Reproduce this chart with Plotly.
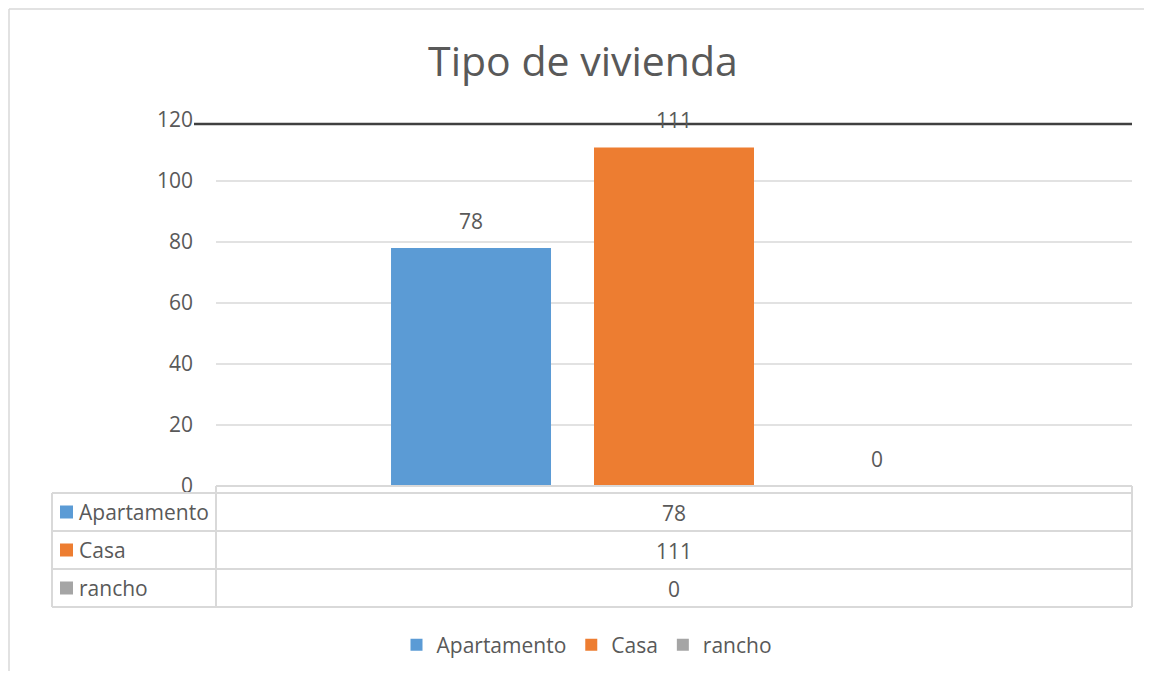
import plotly.graph_objects as go

# ---- data ----
title_text = "Tipo de vivienda"
categories = ["Tipo de vivienda"]
series_names = ["Apartamento", "Casa", "rancho"]
series_values = [78, 111, 0]
series_colors = ["#5B9BD5", "#ED7D31", "#A5A5A5"]
y_ticks = [0, 20, 40, 60, 80, 100, 120]

OFF = 8                      # page body margin
W, H = 1152 - 2 * OFF, 679 - 2 * OFF   # keep the page free of scrollbars
PL, PR, PT, PB = 216, 1132, 120, 486   # plot area in screen pixels
TXT = "#595959"
GRID = "#D9D9D9"
FONT = "Open Sans"
FS = 21


def px2x(px):
    return (px - PL) / (PR - PL)


def py2y(py):
    return (PB - py) / (PB - PT)


fig = go.Figure()
for name, val, col in zip(series_names, series_values, series_colors):
    fig.add_trace(go.Bar(
        x=categories, y=[val], name=name,
        marker=dict(color=col, line=dict(width=0)),
        hoverinfo="skip",
    ))

shapes = []
annotations = []

# gridlines (except top)
for t in y_ticks[1:-1]:
    shapes.append(dict(type="line", xref="paper", yref="y", x0=0, x1=1, y0=t, y1=t,
                       line=dict(color=GRID, width=1.5), layer="below"))

# dark line near top
shapes.append(dict(type="line", xref="paper", yref="paper",
                   x0=px2x(194), x1=1, y0=py2y(124), y1=py2y(124),
                   line=dict(color="#404040", width=2.3)))

# outer chart border (only left and top edges are visible)
shapes.append(dict(type="line", xref="paper", yref="paper",
                   x0=px2x(9), x1=px2x(9), y0=py2y(9), y1=py2y(700),
                   line=dict(color=GRID, width=1.5), layer="below"))
shapes.append(dict(type="line", xref="paper", yref="paper",
                   x0=px2x(9), x1=px2x(1170), y0=py2y(9), y1=py2y(9),
                   line=dict(color=GRID, width=1.5), layer="below"))

# data table lines
tl = dict(color=GRID, width=2)
shapes.append(dict(type="line", xref="paper", yref="paper", x0=px2x(216), x1=px2x(1132),
                   y0=py2y(486), y1=py2y(486), line=tl))
row_edges = [493, 531, 569, 607]
for ry in row_edges:
    shapes.append(dict(type="line", xref="paper", yref="paper", x0=px2x(52), x1=px2x(1132),
                       y0=py2y(ry), y1=py2y(ry), line=tl))
shapes.append(dict(type="line", xref="paper", yref="paper", x0=px2x(52), x1=px2x(52),
                   y0=py2y(493), y1=py2y(607), line=tl))
for vx in (216, 1132):
    shapes.append(dict(type="line", xref="paper", yref="paper", x0=px2x(vx), x1=px2x(vx),
                       y0=py2y(486), y1=py2y(607), line=tl))

# table rows: legend key, name, value
for i, (name, val, col) in enumerate(zip(series_names, series_values, series_colors)):
    cy = (row_edges[i] + row_edges[i + 1]) / 2
    shapes.append(dict(type="rect", xref="paper", yref="paper",
                       x0=px2x(60), x1=px2x(73), y0=py2y(cy + 6.5), y1=py2y(cy - 6.5),
                       fillcolor=col, line=dict(width=0)))
    annotations.append(dict(xref="paper", yref="paper", x=px2x(77), y=py2y(cy),
                            text=name, showarrow=False, xanchor="left", yanchor="middle",
                            font=dict(family=FONT, size=FS, color=TXT)))
    annotations.append(dict(xref="paper", yref="paper", x=0.5, y=py2y(cy + 1),
                            text=str(val), showarrow=False, xanchor="center", yanchor="middle",
                            font=dict(family=FONT, size=FS, color=TXT)))

# data labels above bars
slot = 203
for i, val in enumerate(series_values):
    annotations.append(dict(xref="x", yref="y", x=categories[0], y=val, text=str(val),
                            showarrow=False, xanchor="center", yanchor="middle",
                            xshift=(i - 1) * slot, yshift=27,
                            font=dict(family=FONT, size=FS, color=TXT)))

fig.update_layout(
    width=W, height=H,
    margin=dict(l=PL - OFF, r=W - (PR - OFF), t=PT - OFF, b=H - (PB - OFF), pad=0,
                autoexpand=False),
    paper_bgcolor="white", plot_bgcolor="white",
    title=dict(text=title_text, x=(583 - OFF) / W, xanchor="center",
               y=1 - (62 - OFF) / H, yanchor="middle",
               yref="container", font=dict(family=FONT, size=41, color=TXT)),
    barmode="group", bargap=0.3352, bargroupgap=0.2118,
    xaxis=dict(showticklabels=False, showgrid=False, zeroline=False, showline=False,
               fixedrange=True),
    yaxis=dict(range=[0, 120], tickvals=y_ticks, showgrid=False, zeroline=False,
               showline=False, ticklabelstandoff=22,
               tickfont=dict(family=FONT, size=FS, color=TXT)),
    showlegend=True,
    legend=dict(orientation="h", x=px2x(587), xanchor="center",
                y=py2y(645), yanchor="middle",
                font=dict(family=FONT, size=FS, color=TXT), bgcolor="rgba(0,0,0,0)"),
    shapes=shapes, annotations=annotations,
)

fig.write_html("out.html")
